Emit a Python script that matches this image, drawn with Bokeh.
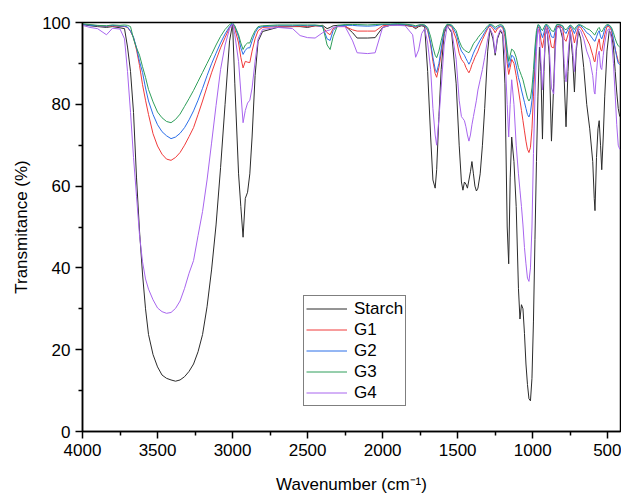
from bokeh.plotting import figure
from bokeh.models import Range1d, FixedTicker
from bokeh.embed import file_html
from bokeh.resources import INLINE

wavenumber = [
    4000, 3950, 3900, 3840, 3800, 3750, 3720,
    3700, 3680, 3660, 3640, 3620, 3600, 3580, 3560, 3530, 3500,
    3470, 3440, 3410, 3380, 3350, 3320, 3290, 3260, 3230, 3200,
    3170, 3140, 3110, 3080, 3050, 3020, 3000,
    2985, 2960, 2945, 2930, 2915, 2900, 2885, 2870, 2850, 2830, 2800,
    2700, 2600, 2550, 2500, 2450, 2400, 2370, 2350, 2330, 2300,
    2250, 2200, 2170, 2100, 2050, 2000, 1950, 1900, 1850, 1800,
    1780, 1760, 1740, 1720, 1700, 1680, 1665, 1650, 1640, 1625, 1610, 1590, 1570,
    1540, 1510, 1490, 1475, 1465, 1455, 1445, 1435, 1425, 1415, 1405, 1395, 1385, 1375, 1365,
    1350, 1335, 1320, 1300, 1285, 1265, 1250, 1235, 1215, 1200,
    1185, 1170, 1160, 1150, 1140, 1125, 1110, 1095, 1085, 1075,
    1065, 1055, 1045, 1035, 1025, 1015, 1005, 995, 985, 975,
    965, 955, 945, 935, 925, 915, 905, 890, 875, 860,
    850, 840, 820, 800, 790, 778, 765, 750, 735, 722,
    710, 695, 680, 660, 640, 620, 600, 590, 585, 575,
    565, 557, 548, 540, 530, 520, 505, 490, 475, 462,
    450, 440, 430, 420,
]

starch = [
    99.5, 99.2, 99.0, 98.8, 99.0, 98.7, 98.5,
    94, 88, 78, 62, 49, 38.5, 30, 23.7, 18.8, 15.8,
    13.8, 13.0, 12.6, 12.3, 12.6, 13.4, 14.7, 16.5, 19.5, 23.7,
    30.5, 39.5, 50.5, 64.5, 80, 95.5, 99.7,
    85, 63, 55, 47.5, 57, 58.5, 63, 72, 87, 95.4, 97.8,
    98.8, 99, 99, 98.8, 99.2, 99.3, 98.5, 98.8, 99.2, 99.3,
    99.2, 97.5, 96.2, 96.2, 96.3, 98.8, 99.3, 99.4, 99.3, 99,
    98.5, 99, 99.2, 99, 88, 72, 61.5, 59.5, 64, 77, 88.5, 97.3, 99.3,
    97.5, 85, 70, 61, 59, 61, 60.5, 59.5, 61.5, 63.5, 66, 63, 60, 58.8, 59.5,
    63, 70, 79, 93, 98.5, 96, 92, 96, 98, 97,
    85, 50, 41, 62, 72, 66, 55, 35, 27.5, 31,
    30, 24, 16.5, 11.5, 8, 7.5, 13, 27, 47, 66,
    82, 94, 88, 71.5, 88, 97, 98.5, 92, 71, 85,
    95, 99, 99, 96, 86, 74.5, 88, 98, 92, 83,
    93, 98, 96, 89, 80, 74, 66, 57, 54, 67,
    74, 76, 70, 64, 72, 82, 93, 98, 97, 94,
    88, 83, 79, 77,
]

g1 = [
    99.6, 99.4, 99.2, 99.0, 99.2, 99.0, 99.0,
    98.8, 97.8, 96.3, 93.3, 89.5, 84.8, 81, 77.5, 72.8, 69.8,
    67.8, 66.6, 66.3, 67, 68.2, 70, 72.1, 74.3, 77.5, 80.8,
    84.3, 87.7, 90.8, 93.8, 96.3, 98.8, 99.8,
    98.5, 95, 91.5, 88.9, 90.5, 90.3, 90.2, 93, 96, 98, 98.8,
    99, 99, 99.1, 99, 99.2, 99, 97.5, 97, 98.5, 99,
    99, 98.2, 97.9, 97.9, 97.9, 99.2, 99.4, 99.5, 99.4, 99,
    98.8, 99.2, 99.3, 99.2, 98, 94.5, 90.5, 87.5, 86.6, 89, 92.5, 97.8, 99.4,
    99, 96, 92.5, 91, 90.5, 90, 89, 88.3, 87.7, 88.5, 89.7, 90.5, 91.5, 92.2, 93,
    94.5, 95.8, 97, 98.5, 99.2, 98.5, 97.5, 98.5, 99, 98.8,
    96.5, 90, 87.3, 89, 91, 90, 87, 83.5, 81, 78.5,
    76, 73.5, 71, 69, 68.2, 69.5, 74, 82, 90, 96,
    99, 98.5, 95.5, 93.8, 96, 98.8, 99, 97, 94, 93.8,
    96.5, 99, 99.2, 98.5, 96, 95.4, 97, 99, 97.5, 95,
    97, 99, 98.8, 97.5, 96, 94.5, 92, 90.5, 90.4, 93,
    95, 96, 93.5, 93, 95, 97, 99, 99, 98, 95.5,
    93.5, 92, 90.5, 90,
]

g2 = [
    99.6, 99.3, 99.2, 99.1, 99.3, 99.1, 99.1,
    98.9, 97.9, 96.4, 93.8, 90.5, 87.8, 84, 80.8, 77.5, 75,
    73.3, 72.3, 71.6, 72, 72.9, 74.3, 76.2, 78.4, 81, 83.9,
    87, 89.9, 92.5, 95, 97.2, 99, 99.8,
    99, 96.5, 93.8, 92.2, 93.2, 93.8, 93.8, 95.5, 97.5, 98.7, 99,
    99.2, 99.2, 99.3, 99.2, 99.3, 99, 96, 95.6, 98, 99.2,
    99.3, 99.3, 99.2, 99.1, 99.2, 99.5, 99.5, 99.6, 99.5, 99.2,
    99, 99.3, 99.4, 99.3, 98.3, 95, 91.5, 88.6, 87.8, 90, 93.5, 98, 99.5,
    99.2, 97.3, 94.5, 93, 92.5, 92, 91.2, 90.5, 89.8, 90.5, 91.5, 92.5, 93.3, 94, 94.7,
    95.7, 96.6, 97.6, 98.8, 99.4, 99, 98.3, 98.8, 99.2, 99,
    97.5, 92, 89, 90.5, 92, 91.5, 89.5, 86.5, 85.2, 83.5,
    82, 80.5, 79, 77.5, 76.9, 78, 81, 86, 92, 97,
    99.3, 99, 97.5, 96.3, 97.5, 99.2, 99.3, 98.3, 96.5, 96.3,
    98, 99.4, 99.4, 99, 97.8, 97.3, 98.3, 99.3, 98.5, 97.3,
    98.5, 99.3, 99.2, 98.5, 97.5, 97, 96, 95.5, 95.4, 96.5,
    97.5, 98, 96.5, 96, 97, 98.5, 99.3, 99.3, 98.5, 96,
    93.5, 91.5, 90, 89.7,
]

g3 = [
    99.7, 99.5, 99.3, 99.2, 99.4, 99.3, 99.4,
    99.3, 99, 96, 93.8, 92, 89.2, 86.6, 83.6, 80.6, 78.1,
    76.7, 75.8, 75.5, 76.3, 77.6, 79.5, 81.4, 83.4, 85.6, 87.8,
    90, 92.2, 94.5, 96.6, 98.3, 99.5, 99.9,
    99.2, 97, 95, 93.4, 94.5, 95, 95, 96.5, 98, 99, 99.2,
    99.4, 99.4, 99.4, 99.4, 99.4, 99.2, 94.5, 93.4, 96.5, 99.3,
    99.5, 99.5, 99.5, 99.4, 99.5, 99.6, 99.6, 99.7, 99.6, 99.4,
    99.2, 99.4, 99.5, 99.4, 98.8, 96.5, 94, 92, 91.4, 93, 95.5, 98.5, 99.6,
    99.4, 98, 95.5, 94.2, 93.6, 93.3, 93, 92.8, 92.6, 93.2, 94, 94.8, 95.3, 95.7, 96.3,
    97, 97.6, 98.3, 99.2, 99.6, 99.3, 98.8, 99.2, 99.5, 99.3,
    98.2, 93.5, 90.5, 92, 93.5, 93, 91.5, 89, 88, 87,
    86, 84.5, 83, 81.5, 80.8, 81.5, 84, 88.5, 94, 98,
    99.5, 99.3, 98.5, 98, 98.8, 99.5, 99.5, 99, 98, 97.8,
    98.8, 99.5, 99.5, 99.2, 98.5, 98.2, 98.8, 99.4, 99, 98.3,
    99, 99.5, 99.4, 99, 98.5, 98.2, 97.5, 97, 97, 97.8,
    98.5, 98.8, 98, 97.7, 98.3, 99, 99.5, 99.4, 98.8, 97.5,
    96, 95, 94.3, 94,
]

g4 = [
    99.3, 98.8, 98.5, 97.0, 98.6, 98.4, 96,
    88, 78, 67, 57.5, 48, 41.5, 37.3, 34.8, 32.2, 30.2,
    29.3, 28.9, 29.1, 30.1, 31.9, 35, 38.7, 41.8, 47.9, 53.8,
    61.5, 70.5, 79.7, 88.5, 94.5, 98.5, 99.7,
    97, 90.5, 83, 75.5, 78.5, 80.3, 81, 84, 90.5, 96, 98.3,
    98.8, 98.5, 96.8, 96.3, 96.2, 97.5, 98, 98.2, 98.8, 99,
    99, 95.5, 92.6, 92.4, 92.6, 98.8, 99.3, 99.3, 99.2, 97,
    91.5, 93.3, 97.3, 98.5, 95, 88.5, 79, 72.5, 70, 76.5, 84, 94.5, 99,
    98, 91, 81, 77, 76.5, 76, 74.5, 72.5, 71, 72.5, 75, 77, 79, 81, 83.5,
    86, 88.5, 91.5, 96, 98.5, 97, 92.5, 96.5, 98.3, 97.5,
    92, 80, 72, 80, 86, 80, 70, 63, 59, 55,
    50.5, 45, 41, 37.5, 36.7, 40, 50, 68, 82, 93,
    98.5, 97, 90, 83.5, 90, 97, 98.5, 94, 84, 82.5,
    93, 98.5, 99, 97, 90, 85.5, 92, 98, 94, 88,
    94, 98.5, 98, 96, 93, 91, 87, 83, 82.5, 88,
    92, 93, 89, 88.5, 92, 95, 98, 98.5, 96, 90,
    82, 75, 70, 69,
]

series_names = ["Starch", "G1", "G2", "G3", "G4"]
series_values = [starch, g1, g2, g3, g4]
series_colors = ["#2b2b2b", "#f03a3a", "#2a6ee8", "#2e9e5a", "#a865ee"]

x_major = [4000, 3500, 3000, 2500, 2000, 1500, 1000, 500]
x_minor = [3750, 3250, 2750, 2250, 1750, 1250, 750]
y_major = [0, 20, 40, 60, 80, 100]
y_minor = [10, 30, 50, 70, 90]

FONT = "Liberation Sans"

p = figure(
    frame_width=538, frame_height=409,
    min_border_left=82, min_border_right=1, min_border_top=22, min_border_bottom=61,
    x_range=Range1d(4000, 415), y_range=Range1d(0, 100),
    output_backend="svg", toolbar_location=None,
    background_fill_color="white", border_fill_color="white",
)
p.grid.visible = False
p.outline_line_color = "black"
p.outline_line_width = 1.5

for name, vals, col in zip(series_names, series_values, series_colors):
    p.line(wavenumber, vals, line_color=col, line_width=1, legend_label=name)

p.xaxis.ticker = FixedTicker(ticks=x_major, minor_ticks=x_minor)
p.yaxis.ticker = FixedTicker(ticks=y_major, minor_ticks=y_minor)
p.xaxis.axis_label = "Wavenumber (cm\u207b\u00b9)"
p.yaxis.axis_label = "Transmitance (%)"

for ax in (p.xaxis[0], p.yaxis[0]):
    ax.axis_line_width = 1.5
    ax.axis_line_color = "black"
    ax.major_tick_in = 0
    ax.major_tick_out = 7
    ax.minor_tick_in = 0
    ax.minor_tick_out = 4
    ax.major_tick_line_width = 1.5
    ax.minor_tick_line_width = 1.5
    ax.major_tick_line_color = "black"
    ax.minor_tick_line_color = "black"
    ax.major_label_text_font = FONT
    ax.major_label_text_font_size = "17px"
    ax.major_label_text_color = "black"
    ax.major_label_standoff = 5
    ax.axis_label_text_font = FONT
    ax.axis_label_text_font_size = "17px"
    ax.axis_label_text_font_style = "normal"
    ax.axis_label_text_color = "black"

p.xaxis[0].axis_label_standoff = 16
p.yaxis[0].axis_label_standoff = 8

lg = p.legend[0]
lg.location = (221, 25)
lg.border_line_color = "black"
lg.border_line_width = 1.5
lg.background_fill_color = "white"
lg.background_fill_alpha = 1
lg.margin = 0
lg.padding = 2
lg.spacing = 0
lg.glyph_width = 41
lg.glyph_height = 21
lg.label_height = 21
lg.label_standoff = 7
lg.label_text_font = FONT
lg.label_text_font_size = "17px"
lg.label_text_color = "black"

open("out.html", "w").write(file_html(p, INLINE))
